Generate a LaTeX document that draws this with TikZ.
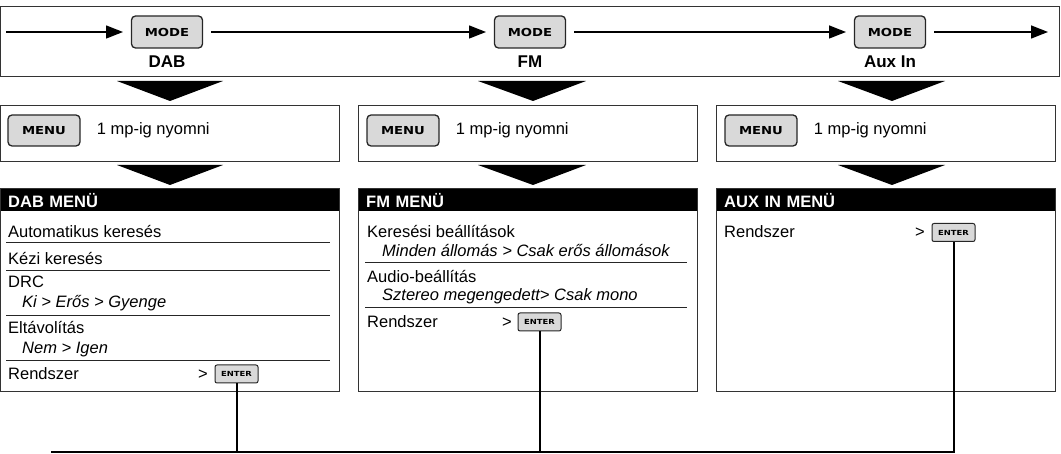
\documentclass[tikz,border=0pt]{standalone}
\usepackage{fontspec}
\setmainfont{Liberation Sans}
\newfontfamily\keyfont[FakeStretch=1.2]{DejaVu Sans}
\usetikzlibrary{arrows.meta, positioning}

\begin{document}
\begin{tikzpicture}[x=1pt, y=-1pt, >={Triangle[length=17pt, width=13pt]},
    frame/.style={draw=black!80, line width=1pt},
    keybtn/.style={draw=black!85, fill=black!15, line width=1.3pt, rounded corners=4pt, inner sep=0pt},
    modebtn/.style={keybtn, minimum width=71pt, minimum height=32pt, outer xsep=8.5pt, font=\keyfont\bfseries\fontsize{11}{11}\selectfont},
    menubtn/.style={keybtn, minimum width=72pt, minimum height=31pt, font=\keyfont\bfseries\fontsize{11}{11}\selectfont},
    enterbtn/.style={keybtn, line width=1pt, rounded corners=2pt, minimum width=43pt, minimum height=18pt, font=\keyfont\bfseries\fontsize{7}{7}\selectfont},
    modename/.style={inner sep=0pt, font=\bfseries\fontsize{17}{17}\selectfont},
    item/.style={anchor=base west, inner sep=0pt, font=\fontsize{16.5}{18}\selectfont},
    subitem/.style={item, font=\fontsize{16.5}{18}\selectfont\itshape},
    head/.style={fill=black, text=white, anchor=north west, font=\bfseries\fontsize{16.5}{18}\selectfont,
      text width=323pt, align=left, inner xsep=8pt, inner ysep=0pt, minimum height=22pt, text height=15pt, text depth=0pt},
    itemrule/.style={black!85, line width=1pt},
    flow/.style={->, line width=1.4pt},
    wire/.style={line width=2pt}]
  \useasboundingbox (0,0) rectangle (1061,454);

  % ==================== mode band ====================
  \draw[frame] (0,7) rectangle (1059,77);
  \coordinate (flowStart) at (6,32);
  \coordinate (flowEnd) at (1048,32);
  \node[modebtn] (dabMode) at (167,32) {MODE};
  \node[modebtn] (fmMode) at (530,32) {MODE};
  \node[modebtn] (auxMode) at (890,32) {MODE};
  \node[modename, below=7pt of dabMode] (dabName) {DAB};
  \node[modename, below=7pt of fmMode] (fmName) {FM};
  \node[modename, below=7pt of auxMode] (auxName) {Aux In};
  \draw[flow] (flowStart) -- (dabMode);
  \draw[flow] (dabMode) -- (fmMode);
  \draw[flow] (fmMode) -- (auxMode);
  \draw[flow] (auxMode) -- (flowEnd);

  % ==================== DAB ====================
  \begin{scope}
    \fill (117,81) -- (223,81) -- (170,101) -- cycle;
    \draw[frame] (0,106) rectangle (339,162);
    \node[menubtn] (dabMenu) at (44,130.5) {MENU};
    \node[item, anchor=west, right=16pt of dabMenu] (dabHold) {1 mp-ig nyomni};
    \fill (117,165) -- (223,165) -- (170,185) -- cycle;
    \node[head] (dabHead) at (0,189) {DAB MENÜ};
    \draw[frame] (0,189) rectangle (339,392);
    \node[item] (dabAuto) at (8,238) {Automatikus keresés};
    \draw[itemrule] (6,243) -- (330,243);
    \node[item] (dabManual) at (8,265) {Kézi keresés};
    \draw[itemrule] (6,271) -- (330,271);
    \node[item] (dabDrc) at (8,288) {DRC};
    \node[subitem] (dabDrcSet) at (22,308) {Ki > Erős > Gyenge};
    \draw[itemrule] (6,316) -- (330,316);
    \node[item] (dabPrune) at (8,334) {Eltávolítás};
    \node[subitem] (dabPruneSet) at (22,354) {Nem > Igen};
    \draw[itemrule] (6,361) -- (330,361);
    \node[item] (dabSys) at (8,380) {Rendszer};
    \node[item] (dabGt) at (198,380) {>};
    \node[enterbtn] (dabEnter) at (236.5,374) {ENTER};
  \end{scope}

  % ==================== FM ====================
  \begin{scope}[xshift=358pt]
    \fill (120,81) -- (228,81) -- (175,101) -- cycle;
    \draw[frame] (0,106) rectangle (339,162);
    \node[menubtn] (fmMenu) at (45,130.5) {MENU};
    \node[item, anchor=west, right=16pt of fmMenu] (fmHold) {1 mp-ig nyomni};
    \fill (120,165) -- (228,165) -- (175,185) -- cycle;
    \node[head] (fmHead) at (0,189) {FM MENÜ};
    \draw[frame] (0,189) rectangle (339,392);
    \node[item] (fmSeek) at (9,238) {Keresési beállítások};
    \node[subitem] (fmSeekSet) at (24,257) {Minden állomás > Csak erős állomások};
    \draw[itemrule] (7,263) -- (329,263);
    \node[item] (fmAudio) at (9,283) {Audio-beállítás};
    \node[subitem] (fmAudioSet) at (24,301) {Sztereo megengedett> Csak mono};
    \draw[itemrule] (7,308) -- (329,308);
    \node[item] (fmSys) at (9,328) {Rendszer};
    \node[item] (fmGt) at (144,328) {>};
    \node[enterbtn] (fmEnter) at (181.5,322) {ENTER};
  \end{scope}

  % ==================== Aux In ====================
  \begin{scope}[xshift=716pt]
    \fill (122,81) -- (229,81) -- (176,101) -- cycle;
    \draw[frame] (0,106) rectangle (339,162);
    \node[menubtn] (auxMenu) at (45,130.5) {MENU};
    \node[item, anchor=west, right=16pt of auxMenu] (auxHold) {1 mp-ig nyomni};
    \fill (122,165) -- (229,165) -- (176,185) -- cycle;
    \node[head] (auxHead) at (0,189) {AUX IN MENÜ};
    \draw[frame] (0,189) rectangle (339,392);
    \node[item] (auxSys) at (8,238) {Rendszer};
    \node[item] (auxGt) at (199,238) {>};
    \node[enterbtn] (auxEnter) at (237.5,232.5) {ENTER};
  \end{scope}

  % ENTER lines to the bus
  \coordinate (busStart) at (51,452);
  \draw[wire] (busStart) -- (auxEnter.south |- busStart) -- (auxEnter.south);
  \draw[wire] (dabEnter.south) -- (dabEnter.south |- busStart);
  \draw[wire] (fmEnter.south) -- (fmEnter.south |- busStart);
\end{tikzpicture}
\end{document}
